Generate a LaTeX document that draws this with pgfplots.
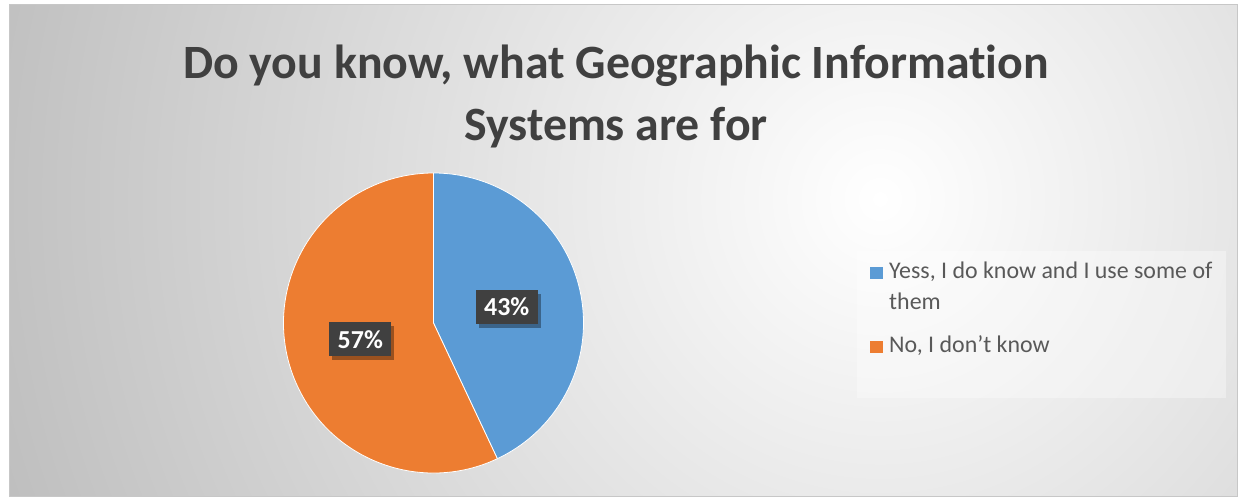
\documentclass[border=0pt]{standalone}
\usepackage{pgfplots}
\usepackage{pgfplotstable}
\pgfplotsset{compat=1.18}
\usepackage{fontspec}
\setmainfont{Carlito}[Ligatures={NoCommon}]
\usetikzlibrary{shadows}
\definecolor{pieblue}{HTML}{5B9BD5}
\definecolor{pieorange}{HTML}{ED7D31}
\definecolor{titlegray}{HTML}{404040}
\definecolor{leggray}{HTML}{595959}
\definecolor{boxdark}{HTML}{404040}
\pgfplotstableread{
label value
yes 43
no 57
}\piedata
\begin{document}
\begin{tikzpicture}[x=1bp,y=1bp]
\pgfplotstablegetelem{0}{value}\of\piedata \let\valA\pgfplotsretval
\pgfplotstablegetelem{1}{value}\of\piedata \let\valB\pgfplotsretval
\pgfmathsetmacro\angA{90-\valA*3.6}
\pgfmathsetmacro\angB{\angA-\valB*3.6}
\pgfmathsetmacro\midA{90-\valA*1.8}
\pgfmathsetmacro\midB{\angA-\valB*1.8}
\fill[white] (0,0) rectangle (1239,499);
\begin{scope}
\clip (9,2) rectangle (1237,494);
\shade[inner color=white, outer color=black!26] (880,300) circle (950);
\end{scope}
\draw[black!22, line width=1bp] (9,2) rectangle (1237,494);
\node[anchor=base, font=\fontsize{48}{58}\selectfont\bfseries, text=titlegray] at (616,420) {Do you know, what Geographic Information};
\node[anchor=base, font=\fontsize{48}{58}\selectfont\bfseries, text=titlegray] at (616,358) {Systems are for};
\begin{axis}[at={(433.5bp,176bp)}, anchor=center, scale only axis, width=300bp, height=300bp,
  xmin=-1, xmax=1, ymin=-1, ymax=1, hide axis, clip=false]
\filldraw[fill=pieblue, draw=white, line width=0.8bp] (axis cs:0,0) -- (axis cs:0,1) arc[start angle=90, end angle=\angA, radius=150bp] -- cycle;
\filldraw[fill=pieorange, draw=white, line width=0.8bp] (axis cs:0,0) -- (axis cs:{cos(\angA)},{sin(\angA)}) arc[start angle=\angA, end angle=\angB, radius=150bp] -- cycle;
\node[fill=boxdark, text=white, font=\fontsize{26}{28}\selectfont\bfseries, minimum width=62bp, minimum height=34bp, inner sep=0pt,
  drop shadow={shadow xshift=3bp, shadow yshift=-4bp, opacity=0.35, fill=black}]
  at (axis cs:{0.5*cos(\midA)},{0.5*sin(\midA)}) {\valA\%};
\node[fill=boxdark, text=white, font=\fontsize{26}{28}\selectfont\bfseries, minimum width=62bp, minimum height=34bp, inner sep=0pt,
  drop shadow={shadow xshift=3bp, shadow yshift=-4bp, opacity=0.35, fill=black}]
  at (axis cs:{0.5*cos(\midB)},{0.5*sin(\midB)}) {\valB\%};
\end{axis}
\fill[white, opacity=0.35] (857,101) rectangle (1226,248);
\fill[pieblue] (870,220) rectangle (883,232);
\fill[pieorange] (870,146) rectangle (883,158);
\node[anchor=base west, inner sep=0pt, font=\fontsize{24}{28}\selectfont, text=leggray] at (889,220) {Yess, I do know and I use some of};
\node[anchor=base west, inner sep=0pt, font=\fontsize{24}{28}\selectfont, text=leggray] at (889,189) {them};
\node[anchor=base west, inner sep=0pt, font=\fontsize{24}{28}\selectfont, text=leggray] at (889,146) {No, I don’t know};
\end{tikzpicture}
\end{document}
